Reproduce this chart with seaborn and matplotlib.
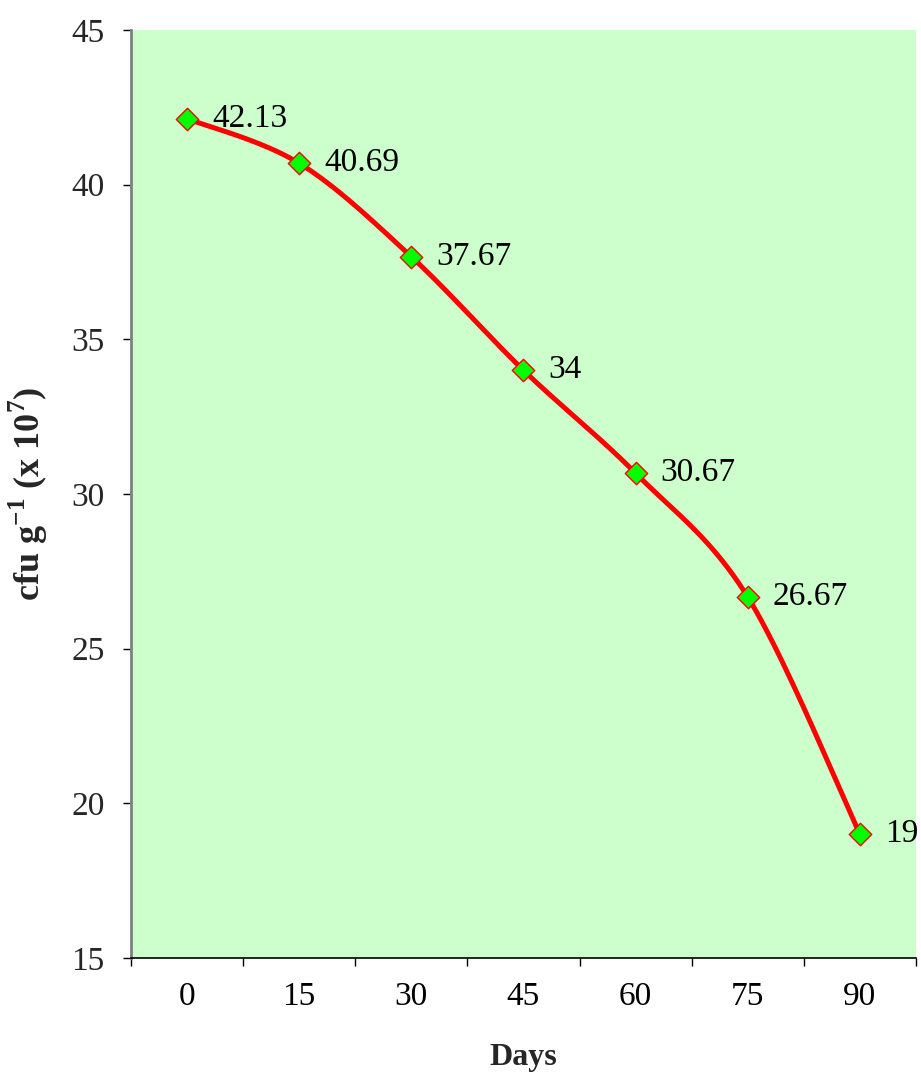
import numpy as np
import pandas as pd
import matplotlib
matplotlib.use("Agg")
import matplotlib.pyplot as plt
from matplotlib.ticker import FixedLocator, NullFormatter
import seaborn as sns

# Viable count over storage time
days = ["0", "15", "30", "45", "60", "75", "90"]
cfu = [42.13, 40.69, 37.67, 34.0, 30.67, 26.67, 19.0]
point_labels = ["42.13", "40.69", "37.67", "34", "30.67", "26.67", "19"]

sns.set_theme(style="white")
plt.rcParams["font.family"] = ["Liberation Serif", "DejaVu Serif"]
plt.rcParams["mathtext.fontset"] = "custom"
plt.rcParams["mathtext.rm"] = "Liberation Serif"
plt.rcParams["mathtext.bf"] = "Liberation Serif:bold"


def smooth_curve(x, y, steps=40):
    """Cubic Bezier smoothing through every point (Catmull-Rom style)."""
    pts = np.column_stack([x, y]).astype(float)
    padded = np.vstack([pts[0], pts, pts[-1]])
    out = []
    t = np.linspace(0, 1, steps)[:, None]
    for i in range(len(pts) - 1):
        p0, p1, p2, p3 = padded[i], padded[i + 1], padded[i + 2], padded[i + 3]
        c1 = p1 + (p2 - p0) / 6.0
        c2 = p2 - (p3 - p1) / 6.0
        seg = ((1 - t) ** 3) * p1 + 3 * ((1 - t) ** 2) * t * c1 \
            + 3 * (1 - t) * t ** 2 * c2 + t ** 3 * p2
        out.append(seg if i == 0 else seg[1:])
    out = np.vstack(out)
    return out[:, 0], out[:, 1]


pos = np.arange(len(days))
df = pd.DataFrame({"pos": pos, "cfu": cfu})
sx, sy = smooth_curve(pos, cfu)
curve = pd.DataFrame({"pos": sx, "cfu": sy})

fig = plt.figure(figsize=(9.21, 10.8), dpi=100)
ax = fig.add_axes([0.1422, 0.1130, 0.8523, 0.8593])
ax.set_facecolor("#CCFFCC")

sns.lineplot(data=curve, x="pos", y="cfu", ax=ax, color="#FF0000",
             linewidth=3.6, sort=False, estimator=None, zorder=2)
sns.scatterplot(data=df, x="pos", y="cfu", ax=ax, marker="D", s=130,
                color="#00FF00", edgecolor="#FF0000", linewidth=1.0, zorder=3)

for xi, yi, lab in zip(pos, cfu, point_labels):
    ax.annotate(lab, (xi, yi), xytext=(18, 0), textcoords="offset points",
                ha="left", va="center", fontsize=24, color="black",
                annotation_clip=False)

ax.set_xlim(-0.5, len(days) - 0.5)
ax.set_ylim(15, 45)
ax.set_yticks(np.arange(15, 46, 5))
ax.set_xticks(pos)
ax.set_xticklabels(days)
ax.xaxis.set_minor_locator(FixedLocator(np.arange(-0.5, len(days), 1.0)))
ax.xaxis.set_minor_formatter(NullFormatter())

ax.tick_params(axis="x", which="major", length=0, pad=17, labelsize=24,
               colors="black")
ax.tick_params(axis="x", which="minor", direction="out", length=6,
               width=1.0, color="black", bottom=True)
ax.tick_params(axis="y", which="major", direction="out", length=6,
               width=1.0, color="black", pad=13, labelsize=24, left=True)

for side in ("top", "right"):
    ax.spines[side].set_visible(False)
ax.spines["left"].set_color("#808080")
ax.spines["left"].set_linewidth(2.0)
ax.spines["bottom"].set_color("black")
ax.spines["bottom"].set_linewidth(1.2)

ax.set_xlabel("Days", fontsize=23, fontweight="bold")
ax.set_ylabel(r"cfu g$^{\mathbf{-1}}$ (x 10$^{\mathbf{7}}$)", fontsize=26,
              fontweight="bold")
ax.xaxis.set_label_coords(0.5, -0.0916)
ax.yaxis.set_label_coords(-0.103, 0.5)
ax.grid(False)

fig.savefig("out.png", dpi=100)
